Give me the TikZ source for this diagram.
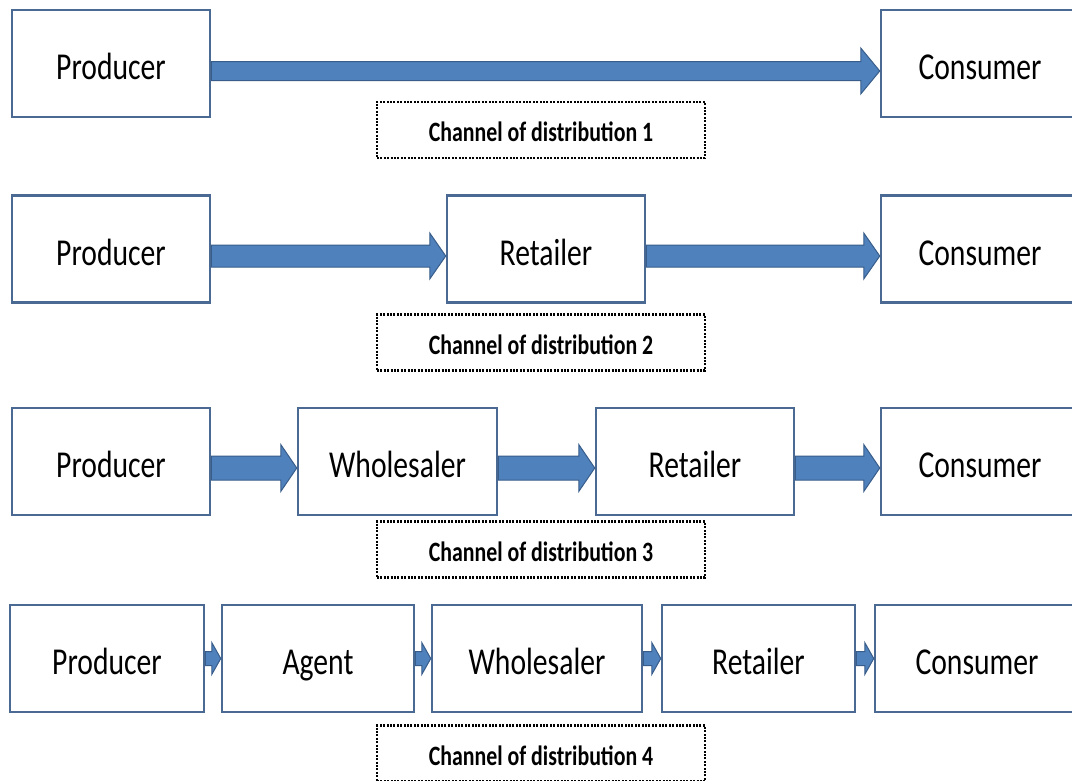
\documentclass[tikz,border=0pt]{standalone}
\usepackage{fontspec}
\setmainfont{Carlito}[FakeStretch=0.78]
\usetikzlibrary{calc}
\definecolor{boxc}{HTML}{4A6A94}
\definecolor{arrfill}{HTML}{4F81BD}
\definecolor{arrline}{HTML}{385D8A}
\tikzset{
  bx/.style={draw=boxc, line width=2.5pt, fill=white, inner sep=0pt,
    minimum height=107pt, font=\fontsize{38}{40}\selectfont,
    text height=32pt, text depth=0pt},
  lbl/.style={draw=black, line width=2.2pt, dash pattern=on 2pt off 1.4pt,
    inner sep=0pt, minimum width=328pt, minimum height=56pt,
    font=\bfseries\fontsize{28}{30}\selectfont, text height=23pt, text depth=0pt},
  barrow/.style={fill=arrfill, draw=arrline, line width=1pt, line join=miter}
}
% #1 from node, #2 to node, #3 vertical offset, #4 shaft half, #5 head half, #6 head length
\newcommand\blockarrow[6]{%
  \path[barrow] ($(#1.east)+(0,#3-#4)$) -- ($(#2.west)+(-#6,#3-#4)$)
    -- ($(#2.west)+(-#6,#3-#5)$) -- ($(#2.west)+(0,#3)$)
    -- ($(#2.west)+(-#6,#3+#5)$) -- ($(#2.west)+(-#6,#3+#4)$)
    -- ($(#1.east)+(0,#3+#4)$) -- cycle;}
\begin{document}
\begin{tikzpicture}[x=1pt,y=-1pt]
\clip (0,0) rectangle (1072,780);
\fill[white] (0,0) rectangle (1072,780);
% Row 1
\node[bx, minimum width=198pt] (pa) at (111,63.5) {Producer};
\node[bx, minimum width=198pt] (ca) at (980,63.5) {Consumer};
\blockarrow{pa}{ca}{7.5}{9.5}{23}{19}
\node[lbl] (la) at (541,130) {Channel of distribution 1};
% Row 2
\node[bx, minimum width=198pt] (pb) at (111,249) {Producer};
\node[bx, minimum width=198pt] (rb) at (546,249) {Retailer};
\node[bx, minimum width=198pt] (cb) at (980,249) {Consumer};
\blockarrow{pb}{rb}{7}{11}{23}{16}
\blockarrow{rb}{cb}{7}{11}{23}{16}
\node[lbl] (lb) at (541,342.5) {Channel of distribution 2};
% Row 3
\node[bx, minimum width=198pt] (pc) at (111,461.5) {Producer};
\node[bx, minimum width=199pt] (wc) at (397.5,461.5) {Wholesaler};
\node[bx, minimum width=198pt] (rc) at (695,461.5) {Retailer};
\node[bx, minimum width=198pt] (cc) at (980,461.5) {Consumer};
\blockarrow{pc}{wc}{6.5}{12}{23.5}{16}
\blockarrow{wc}{rc}{6.5}{12}{23.5}{16}
\blockarrow{rc}{cc}{6.5}{12}{23.5}{16}
\node[lbl] (lc) at (541,549.5) {Channel of distribution 3};
% Row 4
\node[bx, minimum width=194pt] (pd) at (107,658.5) {Producer};
\node[bx, minimum width=192pt] (ad) at (318,658.5) {Agent};
\node[bx, minimum width=210pt] (wd) at (537,658.5) {Wholesaler};
\node[bx, minimum width=193pt] (rd) at (758.5,658.5) {Retailer};
\node[bx, minimum width=204pt] (cd) at (977,658.5) {Consumer};
\blockarrow{pd}{ad}{0}{7}{16}{9}
\blockarrow{ad}{wd}{0}{7}{16}{9}
\blockarrow{wd}{rd}{0}{7}{16}{9}
\blockarrow{rd}{cd}{0}{7}{16}{9}
\node[lbl] (ld) at (541,753.5) {Channel of distribution 4};
\end{tikzpicture}
\end{document}
